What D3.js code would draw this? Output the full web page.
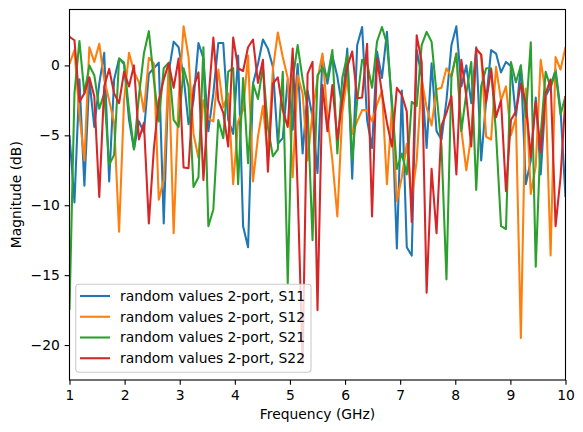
<!DOCTYPE html>
<html>
<head>
<meta charset="utf-8">
<script src="https://cdn.jsdelivr.net/npm/d3@7"></script>
<style>
  html, body { margin: 0; padding: 0; background: #fff; }
  text { font-family: "DejaVu Sans", sans-serif; font-size: 13.89px; fill: #000; }
</style>
</head>
<body>
<div id="chart"></div>
<script>
"use strict";

const xTicks = [1, 2, 3, 4, 5, 6, 7, 8, 9, 10];
const yTicks = [0, -5, -10, -15, -20];
const seriesNames = ["random values 2-port, S11", "random values 2-port, S12", "random values 2-port, S21", "random values 2-port, S22"];
const seriesColors = ["#1f77b4", "#ff7f0e", "#2ca02c", "#d62728"];

// 101 points from 1 to 10 GHz
const s11 = [
  -5, -9.8, -1, -8.6, -1, -4.4, -1.3, 0.9, -8.3, -1,
  0.5, 0.1, -3.9, -6, -4, -4.8, -0.6, -0.2, 0.2, -11.3,
  -0.5, 1.7, 1.3, -0.8, -4.2, -2.5, 1.6, 0.5, -4.7, -2,
  1.6, 1.6, -3.9, -4.9, 0.7, -11.5, -13, -1.3, 0.1, 1.85,
  1.2, -0.1, -5.6, -5.2, -1, -4.6, 0.1, -6.3, -1.8, -3.7,
  -7.7, 0.6, -1.3, 0.7, -0.8, -3, 1.2, -8.1, 1.45, 2.75,
  -3.9, -5.9, 1, -0.9, 2.4, -3, -13.1, -1.8, -13, -13.6,
  1.1, -0.8, -5.9, 0.15, -4.7, -5.3, -2.5, 1.45, 2.8, -1.5,
  0, -2.7, 1.3, -6.8, -2.5, 1.1, 0.85, -0.5, 0.25, -0.05,
  -3.7, 0, -8.5, -6.8, -2.3, -7.8, -2.2, -1.5, -0.3, -3.2,
  -9.4
];
const s12 = [
  0.1, 1.1, -3.5, -6.8, 1.3, 0.25, 1.55, -1, -2.5, -4.1,
  -11.9, -2.5, 0.9, -0.45, -1.2, -3.3, 0.55, 0.15, -9.6, -8.2,
  -0.1, -12, -2.5, 2.8, 0.6, -4.9, -6.6, -2.5, -3.8, -4,
  -0.3, -3, -2, -8.5, -4, -3.2, 0.7, -8.3, -5.1, -2.9,
  -6.5, -0.3, 2.35, 0.6, -0.9, -8, -0.7, -2, -6.8, -3.4,
  -1, 0.85, -3.7, -6.8, -10.8, -3.4, -0.8, -4.9, -4, -3.2,
  -3.2, -4, -2.8, -1.8, -8.5, -3, -9.7, -8, -5.6, -9.5,
  -6.8, -1, -3, -4.3, -1.7, -1.6, -0.2, -0.8, 0.85, -4.6,
  -7.5, -5, 1.1, 0.8, -5.1, -5.3, -0.1, -2.5, -1.5, -5,
  -3.7, -19.5, -1.65, -9.2, -7.2, 0.4, -2, -13.6, 0.6, -0.3,
  1.3
];
const s21 = [
  -17.5, -2, 1.75, -2, 0, -0.7, -3.1, -2, -7.1, -6.4,
  0.5, 0.2, -3.2, -6, -2.2, 0.85, 2.45, -1, -4, -0.2,
  0.2, -3.9, -4.4, -0.2, -1.5, -8.7, -8, 1.3, -11.5, -10.3,
  -3.9, -5.2, -0.45, -0.2, -8.5, -0.9, -7, -1.3, -2.4, -0.1,
  -4.4, -6.5, -6, -0.45, -15.6, -1, 1.45, -1, -3, -12.5,
  -0.7, -0.15, -0.9, 1.1, -6.3, -0.9, 0.75, -6.8, -2.5, 0.4,
  0.15, -1.6, 1.7, 2.75, 1.55, -2.5, -7.4, -6.3, -7.8, -2.6,
  -2.9, 1.45, 2.4, 1.7, -2, -5.8, -15.3, -0.8, 0.85, -4.7,
  -2, 0.25, -8.9, -1.5, -0.2, -0.2, -4.9, -11.5, -11.7, 0.25,
  -1.2, 0, -3.7, 1.65, -14.4, -5, -0.45, -1.6, -0.5, -3.5,
  -2.2
];
const s22 = [
  2.05, 1.8, -2.6, -2, -0.85, -2.2, -9.4, -1.5, -0.25, -2,
  -2.7, -0.45, -1.5, 0, -5.3, -4.1, -11.3, -6, -2.5, -1,
  0.15, -1.6, 0.5, -7.3, -7.35, -1.6, -0.5, -8.2, -2.5, 2,
  -2.5, -3.4, -5.8, 2, -0.2, -0.4, 1.3, 1.85, -1.25, 0.4,
  -7.6, -1.3, -0.85, -3.2, -4.4, 1.2, -8.9, -21.3, -0.6, 0.25,
  -17.5, -1.4, -4.7, -1.4, -5.3, -2.5, -0.1, 1, -2.35, -2.3,
  1.55, -10.8, 0.5, -2, -4.1, -5.8, -1.6, -2.1, -3.3, -11.2,
  2.15, 0.25, -16.25, -7.4, -12, -4.3, -3.4, -2.2, -7.8, 0.4,
  -2.2, -5.8, 1.2, 0.75, -2.6, -0.3, -3.7, -2.5, -9, -3.9,
  -3.3, -1.3, -2.7, -6.5, -2.6, -6.2, -2, -1, -11.5, -8,
  -2.2
];
const allSeries = [s11, s12, s21, s22];

const width = 583;
const height = 432;
const margin = { top: 9.5, right: 17.5, bottom: 52, left: 69.5 };
const innerW = width - margin.left - margin.right;
const innerH = height - margin.top - margin.bottom;

const svg = d3.select("#chart").append("svg")
  .attr("width", width)
  .attr("height", height)
  .style("display", "block");

const g = svg.append("g").attr("transform", `translate(${margin.left},${margin.top})`);

const x = d3.scaleLinear().domain([1, 10]).range([0, innerW]);
const y = d3.scaleLinear().domain([-22.5, 4]).range([innerH, 0]);

g.append("clipPath").attr("id", "plot-clip")
  .append("rect").attr("width", innerW).attr("height", innerH);

const line = d3.line()
  .x((d, i) => x(1 + 0.09 * i))
  .y((d) => y(d));

const linesGroup = g.append("g").attr("clip-path", "url(#plot-clip)");
allSeries.forEach((values, k) => {
  linesGroup.append("path")
    .datum(values)
    .attr("fill", "none")
    .attr("stroke", seriesColors[k])
    .attr("stroke-width", 2.08)
    .attr("stroke-linejoin", "round")
    .attr("d", line);
});

const fmtY = (d) => (d < 0 ? "\u2212" + Math.abs(d) : String(d));

const xAxis = g.append("g")
  .attr("transform", `translate(0,${innerH})`)
  .call(d3.axisBottom(x).tickValues(xTicks).tickFormat(d3.format("d")).tickSize(4.86).tickPadding(4.86));
const yAxis = g.append("g")
  .call(d3.axisLeft(y).tickValues(yTicks).tickFormat(fmtY).tickSize(4.86).tickPadding(4.86));

[xAxis, yAxis].forEach((a) => {
  a.selectAll(".domain").remove();
  a.selectAll("line").attr("stroke", "#000").attr("stroke-width", 1.11);
  a.selectAll("text").style("font-family", '"DejaVu Sans", sans-serif').style("font-size", "13.89px").attr("fill", "#000");
});

g.append("rect")
  .attr("width", innerW)
  .attr("height", innerH)
  .attr("fill", "none")
  .attr("stroke", "#000")
  .attr("stroke-width", 1.11);

svg.append("text")
  .attr("x", margin.left + innerW / 2)
  .attr("y", 419)
  .attr("text-anchor", "middle")
  .text("Frequency (GHz)");

svg.append("text")
  .attr("transform", `translate(20.5,${margin.top + innerH / 2}) rotate(-90)`)
  .attr("text-anchor", "middle")
  .text("Magnitude (dB)");

// legend
const legend = svg.append("g").attr("transform", "translate(75.7,284.3)");
legend.append("rect")
  .attr("width", 235.3)
  .attr("height", 88)
  .attr("rx", 3)
  .attr("fill", "#fff")
  .attr("fill-opacity", 0.8)
  .attr("stroke", "#ccc")
  .attr("stroke-width", 1.11);
seriesNames.forEach((name, k) => {
  const rowY = 11.7 + k * 20.75;
  legend.append("line")
    .attr("x1", 4.3).attr("x2", 34.3)
    .attr("y1", rowY).attr("y2", rowY)
    .attr("stroke", seriesColors[k])
    .attr("stroke-width", 2.08);
  legend.append("text")
    .attr("x", 44.3)
    .attr("y", rowY + 5)
    .attr("textLength", 185)
    .text(name);
});
</script>
</body>
</html>
